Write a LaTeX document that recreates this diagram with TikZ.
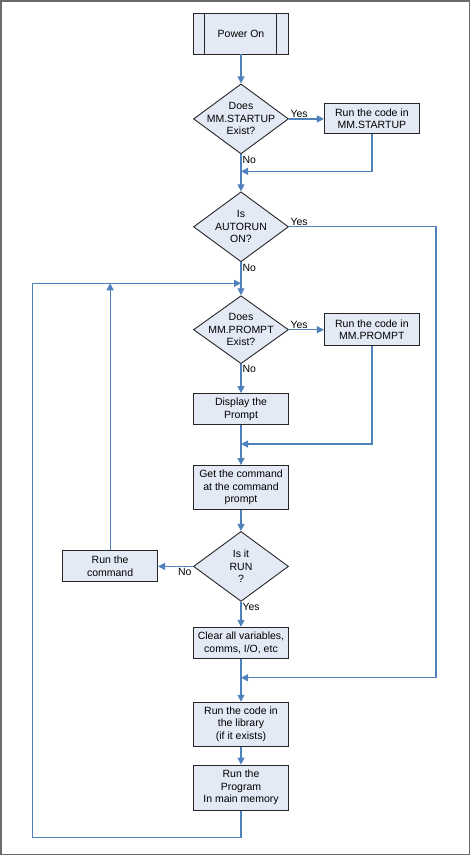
\documentclass[tikz,border=0pt]{standalone}
\usepackage{fontspec}
\setmainfont{Liberation Sans}
\usetikzlibrary{arrows.meta, positioning, shapes.geometric, calc}
\definecolor{flowblue}{HTML}{4F81BD}
\definecolor{flowfill}{HTML}{E3E9F5}
\definecolor{flowgray}{HTML}{6B6B6B}

\begin{document}
\begin{tikzpicture}[
  proc/.style={rectangle, draw=black!85, fill=flowfill, line width=0.9pt,
    minimum width=95pt, minimum height=#1, inner sep=3pt, align=center,
    font=\fontsize{10.5}{12.5}\selectfont},
  proc/.default=31pt,
  dec/.style={diamond, draw=black!85, fill=flowfill, line width=0.9pt,
    minimum width=95pt, minimum height=#1, inner sep=-12pt, align=center,
    font=\fontsize{10.5}{12.5}\selectfont},
  dec/.default=70pt,
  flow/.style={draw=flowblue, line width=1.2pt},
  arr/.style={flow, -{Triangle[length=7pt, width=7pt]}},
  lbl/.style={font=\fontsize{10.5}{12}\selectfont, inner sep=1pt},
]
  \useasboundingbox (0,0) rectangle (470pt,-855pt);
  \draw[flowgray, line width=1.5pt] (0.75pt,-0.75pt) rectangle (469.25pt,-854.25pt);

  % main column
  \node[proc=41pt] (power) at (241pt,-33.5pt) {Power On};
  \draw[line width=0.9pt, black!85]
    ([xshift=11pt]power.north west) -- ([xshift=11pt]power.south west)
    ([xshift=-13pt]power.north east) -- ([xshift=-13pt]power.south east);
  \node[dec, below=29pt of power] (startup) {Does\\MM.STARTUP\\Exist?};
  \node[proc=30pt, right=35pt of startup] (runstartup) {Run the code in\\MM.STARTUP};
  \node[dec, below=37pt of startup] (autorun) {Is\\AUTORUN\\ON?};
  \node[dec=68pt, below=33pt of autorun] (prompt) {Does\\MM.PROMPT\\Exist?};
  \node[proc=32pt, right=35pt of prompt] (runprompt) {Run the code in\\MM.PROMPT};
  \node[proc, below=29pt of prompt] (display) {Display the\\Prompt};
  \node[proc=44pt, below=40pt of display] (getcmd) {Get the command\\at the command\\prompt};
  \node[dec, below=21pt of getcmd] (isrun) {Is it\\RUN\\?};
  \node[proc, left=35pt of isrun] (runcmd) {Run the\\command};
  \node[proc, below=25pt of isrun] (clear) {Clear all variables,\\comms, I/O, etc};
  \node[proc=44pt, below=43pt of clear] (library) {Run the code in\\the library\\(if it exists)};
  \node[proc=45pt, below=18pt of library] (program) {Run the\\Program\\In main memory};

  % joins and turning points
  \coordinate[below=17pt of startup] (m1);
  \coordinate[below=21pt of autorun] (m2);
  \coordinate[below=19pt of display] (m3);
  \coordinate[below=19pt of clear] (m4);
  \coordinate[below=27pt of program] (m5);
  \coordinate[right=147pt of autorun.east] (rx);
  \coordinate[left=30pt of runcmd] (lx);

  \draw[arr] (power) -- (startup);
  \draw[arr] (startup) -- node[lbl, above right, at start] {Yes} (runstartup);
  \draw[arr] (runstartup) |- (m1);
  \draw[arr] (startup) -- node[lbl, below right, at start] {No} (autorun);
  \draw[arr] (autorun.east) -- node[lbl, above right, at start] {Yes} (rx) -- (rx |- m4) -- (m4);
  \draw[arr] (autorun) -- node[lbl, below right, at start] {No} (prompt);
  \draw[arr] (prompt) -- node[lbl, above right, at start] {Yes} (runprompt);
  \draw[arr] (runprompt) |- (m3);
  \draw[arr] (prompt) -- node[lbl, below right, at start] {No} (display);
  \draw[arr] (display) -- (getcmd);
  \draw[arr] (getcmd) -- (isrun);
  \draw[arr] (isrun) -- node[lbl, below left, at start] {No} (runcmd);
  \draw[arr] (runcmd) -- (runcmd |- m2);
  \draw[arr] (isrun) -- node[lbl, below right, at start] {Yes} (clear);
  \draw[arr] (clear) -- (library);
  \draw[arr] (library) -- (program);
  \draw[arr] (program) -- (m5) -- (lx |- m5) -- (lx |- m2) -- (m2);
\end{tikzpicture}
\end{document}
